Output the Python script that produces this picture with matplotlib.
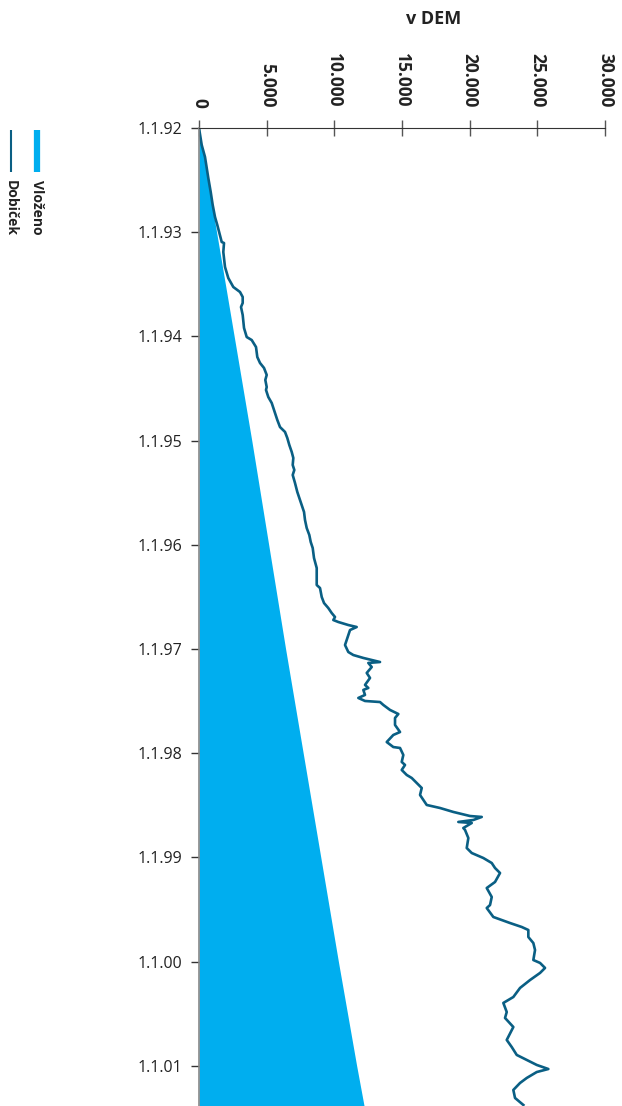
import matplotlib
matplotlib.use("Agg")
import matplotlib.pyplot as plt
from matplotlib.lines import Line2D

plt.rcParams["font.family"] = ["Open Sans", "DejaVu Sans"]

# x axis: value in DEM, y axis: date as decimal year (drawn downward)
value_ticks = [0, 5000, 10000, 15000, 20000, 25000, 30000]
value_labels = ["0", "5.000", "10.000", "15.000", "20.000", "25.000", "30.000"]
date_ticks = [1992, 1993, 1994, 1995, 1996, 1997, 1998, 1999, 2000, 2001]
date_labels = ["1.1.92", "1.1.93", "1.1.94", "1.1.95", "1.1.96",
               "1.1.97", "1.1.98", "1.1.99", "1.1.00", "1.1.01"]
date_end = 2001.386

# Vlozeno (invested)
inv_dates = [1992.0, 1993.0, 1994.0, 1995.0, 1996.0, 1997.0, 1998.0,
             1999.0, 2000.0, 2001.0, 2001.386]
inv_values = [0, 1300, 2600, 3900, 5150, 6400, 7700, 9000, 10300, 11650, 12200]

# Dobicek (portfolio value)
pf_dates = [
    1992.000, 1992.163, 1992.278, 1992.384, 1992.480, 1992.614, 1992.739, 1992.854,
    1992.931, 1993.094, 1993.104, 1993.190, 1993.334, 1993.440, 1993.526, 1993.574,
    1993.622, 1993.679, 1993.718, 1993.795, 1993.919, 1994.006, 1994.035, 1994.102,
    1994.198, 1994.255, 1994.303, 1994.370, 1994.418, 1994.486, 1994.514, 1994.582,
    1994.639, 1994.687, 1994.735, 1994.802, 1994.870, 1994.917, 1994.975, 1995.042,
    1995.109, 1995.167, 1995.234, 1995.282, 1995.330, 1995.407, 1995.493, 1995.570,
    1995.618, 1995.685, 1995.762, 1995.839, 1995.906, 1995.973, 1996.031, 1996.127,
    1996.223, 1996.319, 1996.386, 1996.415, 1996.501, 1996.559, 1996.607, 1996.655,
    1996.693, 1996.722, 1996.741, 1996.770, 1996.789, 1996.818, 1996.866, 1996.962,
    1997.029, 1997.058, 1997.086, 1997.106, 1997.125, 1997.134, 1997.173, 1997.230,
    1997.278, 1997.345, 1997.374, 1997.393, 1997.441, 1997.470, 1997.499, 1997.509,
    1997.537, 1997.585, 1997.624, 1997.662, 1997.729, 1997.797, 1997.825, 1997.893,
    1997.941, 1997.950, 1998.017, 1998.084, 1998.113, 1998.161, 1998.209, 1998.238,
    1998.286, 1998.334, 1998.401, 1998.449, 1998.497, 1998.526, 1998.564, 1998.603,
    1998.612, 1998.641, 1998.660, 1998.670, 1998.718, 1998.737, 1998.814, 1998.910,
    1998.958, 1999.006, 1999.054, 1999.102, 1999.150, 1999.236, 1999.294, 1999.380,
    1999.457, 1999.486, 1999.572, 1999.601, 1999.630, 1999.668, 1999.697, 1999.764,
    1999.822, 1999.889, 1999.985, 2000.013, 2000.061, 2000.109, 2000.177, 2000.253,
    2000.340, 2000.397, 2000.484, 2000.541, 2000.628, 2000.752, 2000.820, 2000.896,
    2000.944, 2000.992, 2001.031, 2001.060, 2001.117, 2001.165, 2001.232, 2001.309,
    2001.376,
]
pf_values = [
    0, 200, 443, 569, 687, 865, 1012, 1182,
    1352, 1678, 1848, 1796, 1921, 2165, 2535, 3030,
    3229, 3229, 3104, 3229, 3326, 3525, 3895, 4212,
    4308, 4508, 4804, 5003, 4900, 5003, 4951, 5121,
    5373, 5491, 5616, 5786, 5986, 6355, 6525, 6673,
    6851, 6969, 6924, 7043, 6924, 7094, 7264, 7464,
    7590, 7760, 7833, 7959, 8151, 8255, 8402, 8498,
    8698, 8698, 8698, 8942, 9068, 9238, 9555, 9807,
    10050, 9925, 10294, 11033, 11654, 11159, 11033, 10789,
    11033, 11403, 12142, 12763, 13376, 12511, 12763, 12393,
    12637, 12267, 12511, 12142, 12267, 11772, 12267, 13376,
    13620, 14115, 14729, 14484, 14484, 14854, 14359, 13871,
    14359, 14854, 15098, 14980, 15223, 14980, 15349, 15719,
    16088, 16458, 16332, 16576, 16827, 17810, 18793, 20027,
    20892, 20271, 19162, 20153, 19532, 19658, 19902, 19783,
    20153, 21010, 21631, 21874, 22244, 21874, 21261, 21631,
    21505, 21261, 21749, 22370, 22983, 23848, 24335, 24335,
    24705, 24830, 24705, 25200, 25570, 25200, 24461, 23722,
    23227, 22488, 22739, 22613, 23227, 22739, 23108, 23478,
    24217, 24956, 25813, 24956, 24217, 23722, 23227, 23352,
    23966,
]

FILL = "#00AEEF"
LINE = "#0A5F84"

fig = plt.figure(figsize=(6.22, 11.06), dpi=100)
ax = fig.add_axes([199 / 622, 0, 406 / 622, 978 / 1106])

ax.fill_betweenx(inv_dates, 0, inv_values, color=FILL, lw=0, zorder=1)
ax.plot(pf_values, pf_dates, color=LINE, lw=1.9, zorder=2)

ax.set_xlim(0, 30000)
ax.set_ylim(date_end, 1992)

ax.xaxis.tick_top()
ax.set_xticks(value_ticks)
ax.set_xticklabels(value_labels, rotation=-90, fontweight="bold", fontsize=12.5,
                   va="bottom", ha="center", color="#222222")
ax.tick_params(axis="x", direction="inout", length=11, width=1.0, color="#555555", pad=9)

ax.set_yticks(date_ticks)
ax.set_yticklabels(date_labels, fontsize=11.5, color="#222222")
ax.tick_params(axis="y", direction="out", length=6, width=1.0, color="#333333", pad=6)

for side in ("right", "bottom"):
    ax.spines[side].set_visible(False)
ax.spines["top"].set_color("#333333")
ax.spines["left"].set_color("#888888")
ax.spines["left"].set_linewidth(1.2)

fig.text(434 / 622, 1 - 19 / 1106, "v DEM", ha="center", va="center",
         fontsize=13, fontweight="bold", color="#222222")

# legend, rotated like the rest of the chart
fig.add_artist(Line2D([37 / 622, 37 / 622], [1 - 130 / 1106, 1 - 172 / 1106],
                      color=FILL, lw=4.5, solid_capstyle="butt"))
fig.add_artist(Line2D([11 / 622, 11 / 622], [1 - 130 / 1106, 1 - 172 / 1106],
                      color=LINE, lw=1.5, solid_capstyle="butt"))
fig.text(37 / 622, 1 - 180 / 1106, "Vloženo", rotation=-90, ha="center", va="top",
         fontsize=10, fontweight="bold", color="#222222")
fig.text(11 / 622, 1 - 180 / 1106, "Dobiček", rotation=-90, ha="center", va="top",
         fontsize=10, fontweight="bold", color="#222222")

fig.savefig("out.png", dpi=100)
